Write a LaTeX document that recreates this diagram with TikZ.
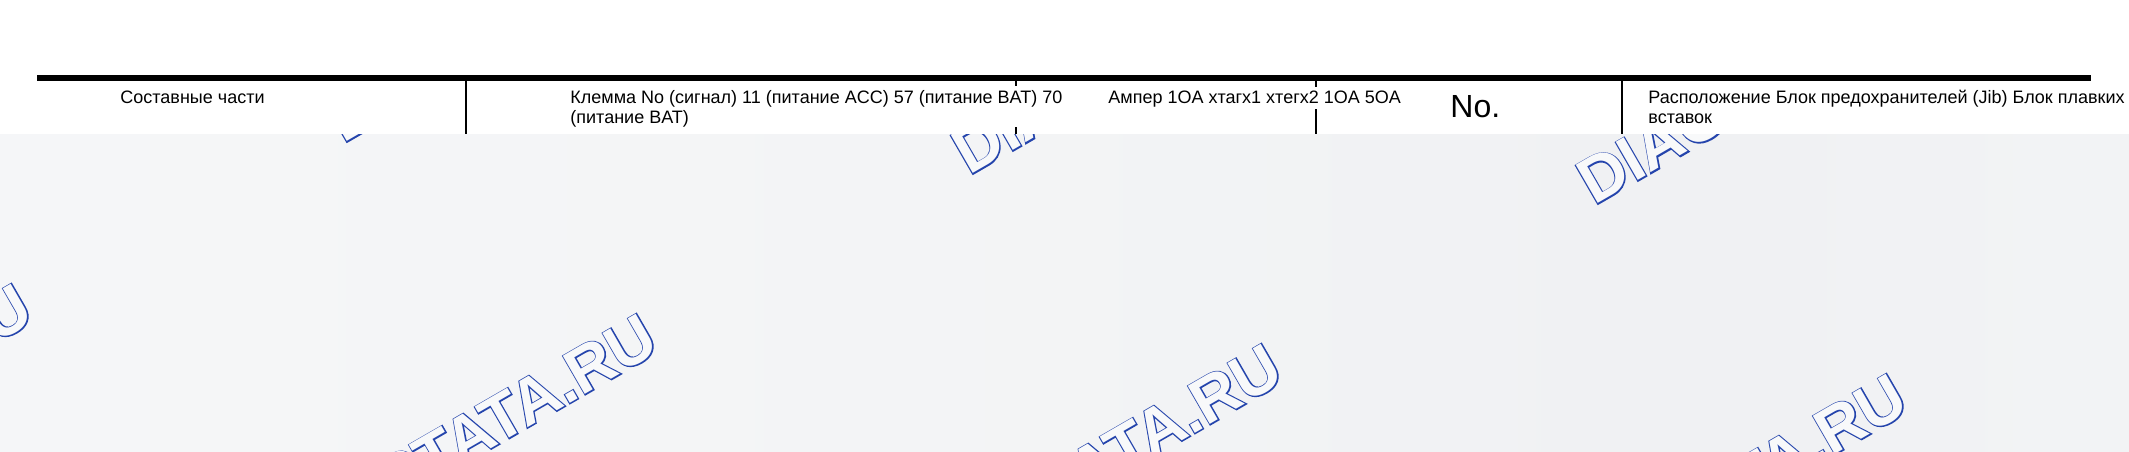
\documentclass[tikz,border=0pt]{standalone}
\usepackage{fontspec}
\setmainfont{Liberation Sans}
\newfontfamily\wmfill{Liberation Sans Bold}
\newfontfamily\wmedge[FakeBold=3.5]{Liberation Sans Bold}
\definecolor{wmblue}{RGB}{36,68,172}
\definecolor{wmbg}{RGB}{248,249,250}
\pgfdeclarehorizontalshading{paper}{100bp}{rgb(0bp)=(0.935,0.94,0.948); rgb(25bp)=(0.962,0.966,0.972); rgb(50bp)=(0.952,0.956,0.962); rgb(65bp)=(0.94,0.944,0.952); rgb(82bp)=(0.958,0.962,0.968); rgb(100bp)=(0.95,0.954,0.96)}

\begin{document}
\begin{tikzpicture}[x=0.5pt, y=-0.5pt, font=\fontsize{9}{10}\selectfont,
	cell/.style={anchor=base west, inner sep=1.5pt, align=left},
	wm/.style={rotate=30, inner sep=0pt},
	wmline/.style={wm, text=wmblue, font=\fontsize{32}{32}\wmedge},
	wmcore/.style={wm, text=wmbg, font=\fontsize{32}{32}\wmfill}]
	\useasboundingbox (0,0) rectangle (2129,451);
	\shade[shading=paper] (0,134) rectangle (2129,451);
	\begin{scope}
		\clip (0,134) rectangle (2129,451);
		\foreach \n/\p in {1/{37,320}, 2/{662,350}, 3/{1287,380}, 4/{1912,410}} {
			\node[wmline, anchor=base east] (ru\n) at (\p) {DIAGNOSTATA.RU};
			\node[wmcore, anchor=base east] at (ru\n.base east) {DIAGNOSTATA.RU};
		}
		\foreach \n/\q in {1/{343,144}, 2/{969,176}, 3/{1594,206}} {
			\node[wmline, anchor=base west] (dia\n) at (\q) {DIAG};
			\node[wmcore, anchor=base west] at (dia\n.base west) {DIAG};
		}
	\end{scope}
	\draw[line width=3pt] (37,78) -- (2091,78);
	\foreach \x in {466,1622}
		\draw[line width=1pt] (\x,81) -- (\x,134);
	\draw[line width=1pt] (1016,81) -- (1016,86) (1016,127) -- (1016,134);
	\draw[line width=1pt] (1316,81) -- (1316,87) (1316,109) -- (1316,134);
	\node[cell] (parts) at (117,103) {Составные части};
	\node[cell] (term) at (567,123) {Клемма No (сигнал) 11 (питание ACC) 57 (питание BAT) 70\\(питание BAT)};
	\node[cell] (amp) at (1105,103) {Ампер 1OA xтагx1 xтегx2 1OA 5OA};
	\node[cell, font=\fontsize{16}{16}\selectfont] (num) at (1447,117) {No.};
	\node[cell] (place) at (1645,123) {Расположение Блок предохранителей (Jib) Блок плавких\\вставок};
\end{tikzpicture}
\end{document}
